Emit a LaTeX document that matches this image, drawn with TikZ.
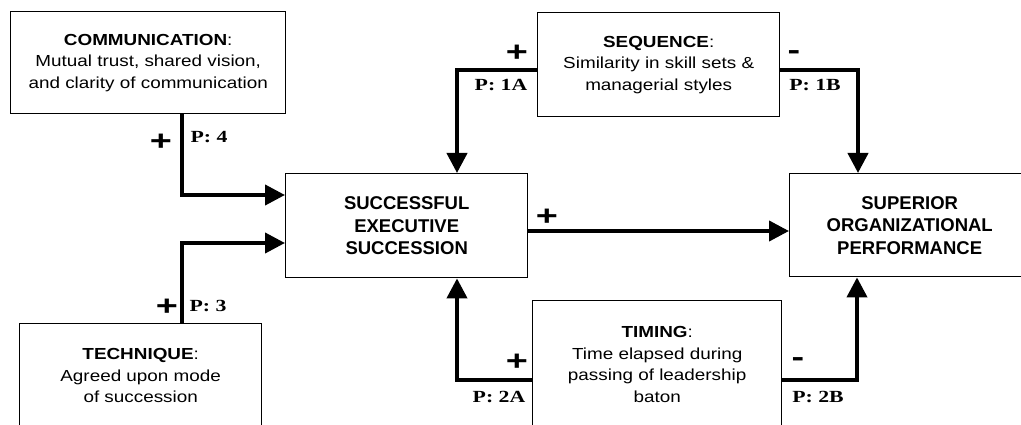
\documentclass[tikz,border=0pt]{standalone}
\usepackage{fontspec}
\setmainfont{Liberation Sans}
\newfontfamily\sidefont{Liberation Sans}[FakeStretch=1.18]
\newfontfamily\signfont{Liberation Sans}[FakeStretch=1.35]
\newfontfamily\pfont{Liberation Serif}[FakeStretch=1.28]
\usetikzlibrary{arrows.meta}

\tikzset{
  box/.style={draw=black, line width=1.4pt, inner sep=0pt, align=center,
    anchor=north west},
  sidebox/.style={box, font=\sidefont\fontsize{16}{21.5}\selectfont},
  centerbox/.style={box, font=\bfseries\fontsize{18.5}{22.5}\selectfont},
  conn/.style={line width=4pt, -{Triangle[length=20pt,width=20pt]}},
  sign/.style={inner sep=0pt, font=\signfont\bfseries\fontsize{28}{28}\selectfont},
  plab/.style={inner sep=0pt, font=\pfont\bfseries\fontsize{17}{17}\selectfont},
}

\begin{document}
\begin{tikzpicture}[x=1pt, y=-1pt]
  \fill[white] (0,0) rectangle (1021,425);
  \useasboundingbox (0,0) rectangle (1021,425);
  \clip (0,0) rectangle (1021,425);

  % boxes
  \node[sidebox, minimum width=275pt, minimum height=102pt] (comm) at (10,11)
    {{\bfseries COMMUNICATION}:\\Mutual trust, shared vision,\\and clarity of communication};
  \node[sidebox, minimum width=242pt, minimum height=104pt] (tech) at (19,323)
    {{\bfseries TECHNIQUE}:\\Agreed upon mode\\of succession};
  \node[sidebox, minimum width=242pt, minimum height=104pt] (seq) at (537,12)
    {{\bfseries SEQUENCE}:\\Similarity in skill sets \&\\managerial styles};
  \node[sidebox, minimum width=249pt, minimum height=128pt] (timing) at (532,300)
    {{\bfseries TIMING}:\\Time elapsed during\\passing of leadership\\baton};
  \node[centerbox, minimum width=242pt, minimum height=104pt] (succ) at (285,173)
    {SUCCESSFUL\\EXECUTIVE\\SUCCESSION};
  \node[centerbox, minimum width=240pt, minimum height=103pt] (sup) at (789,173)
    {SUPERIOR\\ORGANIZATIONAL\\PERFORMANCE};

  % bend points of the connectors
  \coordinate (b4) at (182,195);
  \coordinate (b3) at (182,243);
  \coordinate (b1a) at (457,70);
  \coordinate (b1b) at (858,70);
  \coordinate (b2a) at (457,380);
  \coordinate (b2b) at (857,380);
  \coordinate (mid) at (0,231);

  % connectors
  \draw[conn] (b4 |- comm.south) -- (b4) -- (b4 -| succ.west);
  \draw[conn] (b3 |- tech.north) -- (b3) -- (b3 -| succ.west);
  \draw[conn] (b1a -| seq.west) -- (b1a) -- (b1a |- succ.north);
  \draw[conn] (b1b -| seq.east) -- (b1b) -- (b1b |- sup.north);
  \draw[conn] (b2a -| timing.west) -- (b2a) -- (b2a |- succ.south);
  \draw[conn] (b2b -| timing.east) -- (b2b) -- (b2b |- sup.south);
  \draw[conn] (succ.east |- mid) -- (sup.west |- mid);

  % signs and proposition labels
  \node[sign] (s4) at (161,142) {+};
  \node[plab] (p4) at (209,137) {P: 4};
  \node[sign] (s3) at (167,307) {+};
  \node[plab] (p3) at (208,306) {P: 3};
  \node[sign] (s1a) at (517,53) {+};
  \node[plab] (p1a) at (501,85) {P: 1A};
  \node[sign] (s1b) at (794,55) {-};
  \node[plab] (p1b) at (815,85) {P: 1B};
  \node[sign] (s2a) at (517,362) {+};
  \node[plab] (p2a) at (499,397) {P: 2A};
  \node[sign] (s2b) at (798,362) {-};
  \node[plab] (p2b) at (818,397) {P: 2B};
  \node[sign] (s0) at (547,217) {+};
\end{tikzpicture}
\end{document}
